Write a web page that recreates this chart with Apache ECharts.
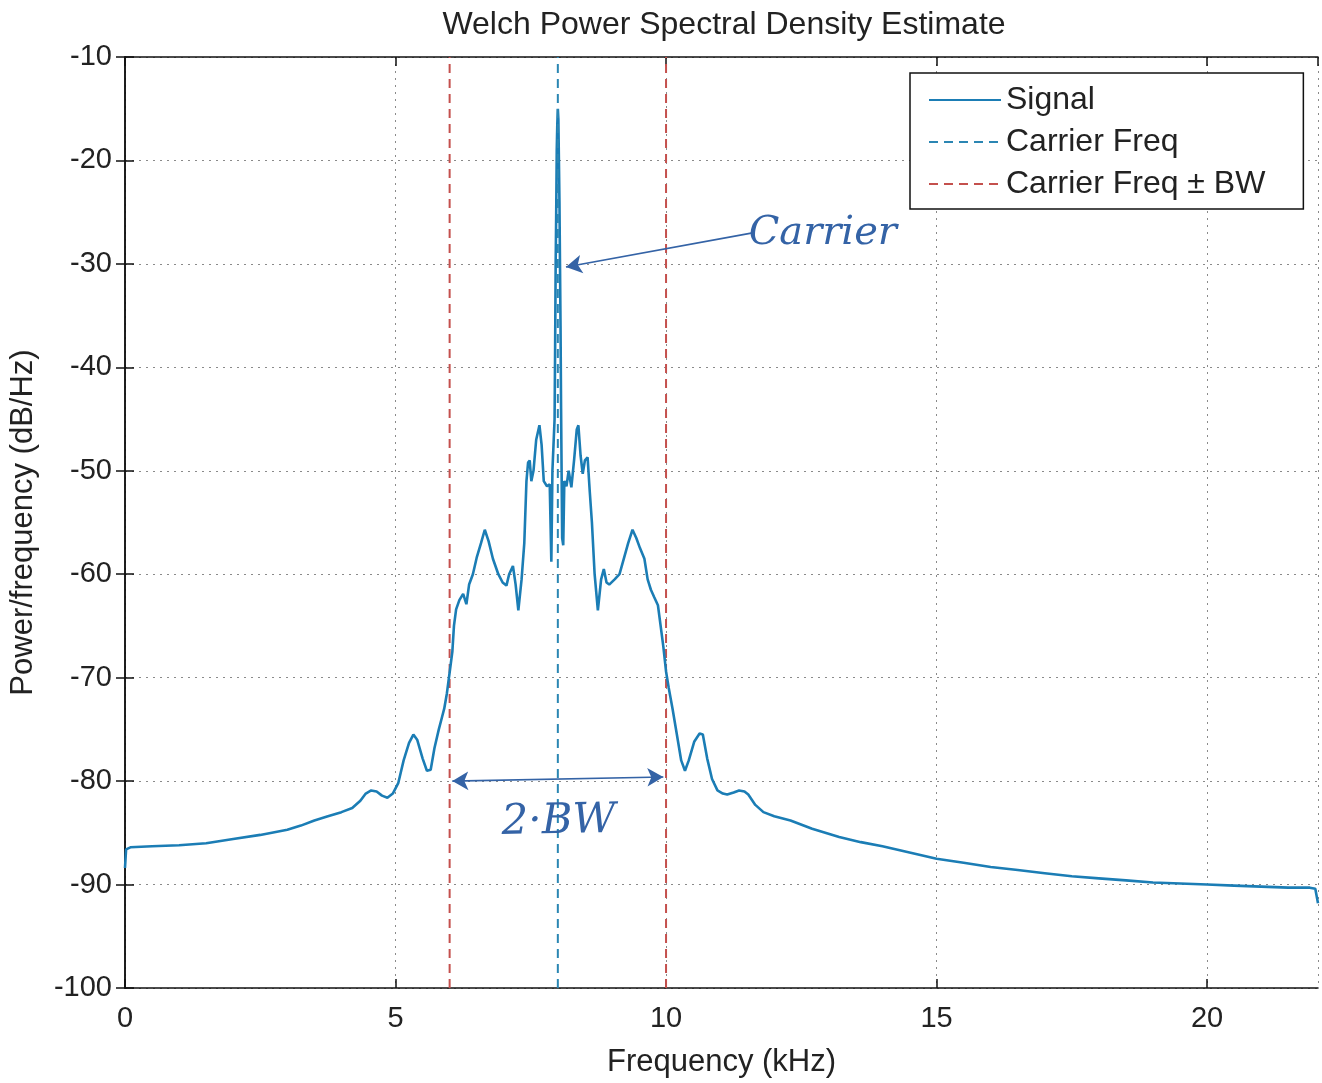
<!DOCTYPE html>
<html>
<head>
<meta charset="utf-8">
<title>Welch Power Spectral Density Estimate</title>
<script src="https://cdn.jsdelivr.net/npm/echarts@6/dist/echarts.min.js"></script>
<style>
    html, body { margin: 0; padding: 0; background: #fff; }
    #psdChart { width: 1322px; height: 1083px; }
</style>
</head>
<body>
<div id="psdChart"></div>
<script>
// frequency in kHz, PSD in dB/Hz
var freqKHz = [
    0.00, 0.02, 0.1, 0.5, 1.0, 1.5, 2.0, 2.5, 3.0, 3.25, 3.5, 3.75, 4.0, 4.2, 4.35, 4.45, 4.55, 4.65, 4.75, 4.85,
    4.95, 5.05, 5.15, 5.25, 5.33, 5.4, 5.5, 5.58, 5.65, 5.72, 5.8, 5.86, 5.9, 5.95, 6.0, 6.05, 6.08, 6.12, 6.18, 6.25,
    6.31, 6.36, 6.43, 6.5, 6.58, 6.65, 6.72, 6.8, 6.9, 6.98, 7.05, 7.1, 7.17, 7.22, 7.27, 7.33, 7.38, 7.42, 7.45, 7.48,
    7.51, 7.55, 7.6, 7.66, 7.7, 7.74, 7.8, 7.85, 7.88, 7.9, 7.92, 7.94, 7.95, 7.96, 7.97, 7.98, 7.99, 8.0, 8.01, 8.02,
    8.03, 8.04, 8.05, 8.06, 8.08, 8.1, 8.12, 8.16, 8.2, 8.25, 8.3, 8.35, 8.38, 8.42, 8.46, 8.5, 8.55, 8.59, 8.63, 8.68,
    8.74, 8.8, 8.85, 8.9, 8.95, 9.05, 9.14, 9.22, 9.3, 9.38, 9.45, 9.52, 9.6, 9.66, 9.72, 9.78, 9.85, 9.9, 9.95, 10.0,
    10.05, 10.12, 10.2, 10.28, 10.35, 10.42, 10.52, 10.62, 10.68, 10.76, 10.85, 10.95, 11.05, 11.13, 11.25, 11.35, 11.45, 11.52, 11.65, 11.8,
    12.0, 12.3, 12.7, 13.2, 13.6, 14.0, 14.5, 15.0, 15.5, 16.0, 16.5, 17.0, 17.5, 18.0, 18.5, 19.0, 19.5, 20.0, 20.5, 21.0,
    21.5, 21.9, 22.0, 22.05
];
var psdDb = [
    -88.4, -86.6, -86.4, -86.3, -86.2, -86.0, -85.6, -85.2, -84.7, -84.3, -83.8, -83.4, -83.0, -82.6, -81.9, -81.2, -80.9, -81.0, -81.4, -81.6,
    -81.2, -80.2, -78.0, -76.3, -75.5, -76.0, -77.8, -79.0, -78.9, -76.8, -75.0, -73.8, -73.0, -71.5, -69.5, -67.5, -65.0, -63.4, -62.5, -61.9,
    -62.9, -61.0, -60.0, -58.4, -57.0, -55.7, -56.8, -58.5, -60.0, -60.8, -61.1, -60.0, -59.2, -61.0, -63.5, -60.5, -57.0, -51.0, -49.2, -49.0,
    -51.0, -50.0, -47.0, -45.6, -47.5, -51.0, -51.5, -51.3, -58.8, -50.0, -47.5, -45.0, -38.0, -30.0, -25.0, -19.0, -16.5, -15.0, -16.0, -20.0,
    -24.0, -30.0, -36.0, -44.0, -56.5, -57.2, -51.0, -51.5, -50.0, -51.6, -49.0, -46.0, -45.6, -48.5, -50.3, -49.0, -48.7, -52.0, -55.0, -60.0,
    -63.5, -60.5, -59.5, -60.8, -61.0, -60.5, -60.0, -58.5, -57.0, -55.7, -56.5, -57.5, -58.5, -60.5, -61.5, -62.2, -63.0, -65.0, -67.0, -69.4,
    -71.0, -73.0, -75.5, -78.0, -79.0, -78.0, -76.2, -75.4, -75.5, -77.8, -79.8, -80.9, -81.2, -81.3, -81.1, -80.9, -81.0, -81.3, -82.3, -83.0,
    -83.4, -83.8, -84.6, -85.4, -85.9, -86.3, -86.9, -87.5, -87.9, -88.3, -88.6, -88.9, -89.2, -89.4, -89.6, -89.8, -89.9, -90.0, -90.1, -90.2,
    -90.3, -90.3, -90.4, -91.8
];
var carrierFreq = 8;      // kHz
var bandWidth = 2;        // kHz
var xTicks = [0, 5, 10, 15, 20];
var yTicks = [-100, -90, -80, -70, -60, -50, -40, -30, -20, -10];

var xMin = 0, xMax = 22.05;
var yMin = -100, yMax = -10;

var signalColor = '#1b7db5';
var carrierColor = '#2b86b3';
var bwColor = '#c4504d';
var inkColor = '#3463a6';
var fontName = '"Liberation Sans", Arial, Helvetica, sans-serif';

var chart = echarts.init(document.getElementById('psdChart'));

function vline(x){
    return [[x, yMin], [x, yMax]];
}

var signalData = [];
for (var i = 0; i < freqKHz.length; i++) {
    signalData.push([freqKHz[i], psdDb[i]]);
}

var axisLineStyle = { color: '#111', width: 1.5 };
var gridLine = { color: '#8a8a8a', type: [2, 5], width: 1 };

var option = {
    backgroundColor: '#fff',
    animation: false,
    title: {
        text: 'Welch Power Spectral Density Estimate',
        left: 719,
        textAlign: 'center',
        top: 4,
        textStyle: { fontFamily: fontName, fontSize: 32, fontWeight: 'normal', color: '#222' }
    },
    legend: {
        orient: 'vertical',
        left: 910,
        top: 73,
        padding: [11, 38, 9, 18],
        itemGap: 10,
        itemWidth: 72,
        itemHeight: 14,
        itemTextGap: 8,
        backgroundColor: '#fff',
        borderColor: '#111',
        borderWidth: 1.5,
        itemStyle: { opacity: 0 },
        textStyle: { fontFamily: fontName, fontSize: 32, color: '#222' },
        data: ['Signal', 'Carrier Freq', 'Carrier Freq ± BW']
    },
    grid: { left: 125, right: 4, top: 57, bottom: 93 },
    xAxis: [{
        type: 'value',
        min: xMin,
        max: xMax,
        interval: 5,
        name: 'Frequency (kHz)',
        nameLocation: 'middle',
        nameGap: 59,
        nameTextStyle: { fontFamily: fontName, fontSize: 31, color: '#222' },
        axisLine: { show: true, lineStyle: axisLineStyle },
        axisTick: { show: true, inside: true, length: 9, lineStyle: axisLineStyle },
        axisLabel: {
            fontFamily: fontName, fontSize: 29, color: '#222', margin: 16,
            showMaxLabel: false,
            formatter: function(v){ return xTicks.indexOf(v) >= 0 ? String(v) : ''; }
        },
        splitLine: { show: true, lineStyle: gridLine }
    }, {
        type: 'value',
        position: 'top',
        min: xMin,
        max: xMax,
        interval: 5,
        axisLine: { show: true, lineStyle: axisLineStyle },
        axisTick: { show: true, inside: true, length: 9, lineStyle: axisLineStyle },
        axisLabel: { show: false },
        splitLine: { show: false }
    }],
    yAxis: [{
        type: 'value',
        min: yMin,
        max: yMax,
        interval: 10,
        name: 'Power/frequency (dB/Hz)',
        nameLocation: 'middle',
        nameGap: 86,
        nameTextStyle: { fontFamily: fontName, fontSize: 31, color: '#222' },
        axisLine: { show: true, lineStyle: axisLineStyle },
        axisTick: { show: true, inside: true, length: 9, lineStyle: axisLineStyle },
        axisLabel: {
            fontFamily: fontName, fontSize: 29, color: '#222', margin: 13,
            formatter: function(v){ return yTicks.indexOf(v) >= 0 ? String(v) : ''; }
        },
        splitLine: { show: true, lineStyle: gridLine }
    }, {
        type: 'value',
        position: 'right',
        min: yMin,
        max: yMax,
        interval: 10,
        axisLine: { show: true, lineStyle: axisLineStyle },
        axisTick: { show: true, inside: true, length: 9, lineStyle: axisLineStyle },
        axisLabel: { show: false },
        splitLine: { show: false }
    }],
    series: [{
        name: 'Signal',
        type: 'line',
        data: signalData,
        symbol: 'none',
        z: 3,
        lineStyle: { color: signalColor, width: 2.6 },
        itemStyle: { color: signalColor },
        markLine: {
            silent: true,
            symbolSize: [14, 16],
            data: [
                // handwritten "Carrier" arrow
                [{ coord: [11.6, -27.0], symbol: 'none',
                   label: { show: true, position: 'start', formatter: 'Carrier', distance: -4,
                            fontFamily: '"DejaVu Serif", serif', fontStyle: 'italic', fontSize: 40, color: inkColor, align: 'left', verticalAlign: 'middle', padding: [14, 0, 0, 0] } },
                 { coord: [8.15, -30.3], symbol: 'arrow' }],
                // handwritten "2*BW" double arrow
                [{ coord: [6.05, -80.0], symbol: 'arrow',
                   label: { show: true, position: 'insideMiddleBottom', formatter: '2·BW', distance: 22,
                            fontFamily: '"DejaVu Serif", serif', fontStyle: 'italic', fontSize: 42, color: inkColor } },
                 { coord: [9.95, -79.6], symbol: 'arrow' }]
            ],
            lineStyle: { color: inkColor, width: 1.6, type: 'solid', curveness: 0.12 }
        }
    }, {
        name: 'Carrier Freq',
        type: 'line',
        data: vline(carrierFreq),
        symbol: 'none',
        z: 4,
        lineStyle: { color: carrierColor, width: 2, type: [9, 6] },
        itemStyle: { color: carrierColor }
    }, {
        name: 'Carrier Freq ± BW',
        type: 'line',
        data: vline(carrierFreq - bandWidth),
        symbol: 'none',
        z: 2,
        lineStyle: { color: bwColor, width: 2, type: [9, 6] },
        itemStyle: { color: bwColor }
    }, {
        name: 'Carrier Freq ± BW',
        type: 'line',
        data: vline(carrierFreq + bandWidth),
        symbol: 'none',
        z: 2,
        lineStyle: { color: bwColor, width: 2, type: [9, 6] },
        itemStyle: { color: bwColor }
    }]
};

chart.setOption(option);
</script>
</body>
</html>
